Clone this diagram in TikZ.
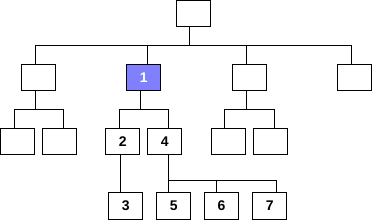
\documentclass[tikz,border=0pt]{standalone}
\usepackage{fontspec}
\setmainfont{Liberation Sans}
\definecolor{selblue}{HTML}{8080FF}
\begin{document}
\begin{tikzpicture}[x=1pt,y=-1pt,line width=1pt,
  box/.style={draw=black,fill=white,minimum width=34pt,minimum height=26.5pt,inner sep=0pt,outer sep=0pt,
    font=\fontsize{14}{16}\selectfont\bfseries},
  sel/.style={box,fill=selblue,text=white},
  conn/.style={draw=black,line width=1pt}]
\useasboundingbox (0,0) rectangle (373,220);
% nodes
\node[box] (top) at (193,13.7) {};
\node[box] (A) at (38.8,77.7) {};
\node[sel] (n1) at (143.7,77.7) {1};
\node[box] (C) at (249.3,77.7) {};
\node[box] (D) at (354.8,77.7) {};
\node[box] (L1) at (17.7,141.7) {};
\node[box] (L2) at (59.8,141.7) {};
\node[box] (n2) at (122.7,141.7) {2};
\node[box] (n4) at (164.8,141.7) {4};
\node[box] (C1) at (228.2,141.7) {};
\node[box] (C2) at (270.8,141.7) {};
\node[box] (n3) at (125.8,205.8) {3};
\node[box] (n5) at (173.8,205.8) {5};
\node[box] (n6) at (221.5,205.8) {6};
\node[box] (n7) at (269.8,205.8) {7};
% junctions
\coordinate (j0) at (189.3,45);
\coordinate (jA) at (35.3,109.3);
\coordinate (j1) at (140.3,109.3);
\coordinate (jC) at (246.3,109.3);
\coordinate (j4) at (168.3,180.3);
% connectors
\draw[conn] (top.south -| j0) -- (j0);
\draw[conn] ([xshift=-3.5pt]A.north) |- (j0);
\draw[conn] ([xshift=3.6pt]n1.north) |- (j0);
\draw[conn] ([xshift=-3pt]C.north) |- (j0);
\draw[conn] ([xshift=-3.8pt]D.north) |- (j0);
\draw[conn] (A.south -| jA) -- (jA);
\draw[conn] ([xshift=-3.4pt]L1.north) |- (jA);
\draw[conn] ([xshift=3.5pt]L2.north) |- (jA);
\draw[conn] (n1.south -| j1) -- (j1);
\draw[conn] ([xshift=-3pt]n2.north) |- (j1);
\draw[conn] ([xshift=3.5pt]n4.north) |- (j1);
\draw[conn] (C.south -| jC) -- (jC);
\draw[conn] ([xshift=-3.9pt]C1.north) |- (jC);
\draw[conn] ([xshift=3.5pt]C2.north) |- (jC);
\draw[conn] ([xshift=-2.4pt]n2.south) coordinate (t2) -- (t2 |- n3.north);
\draw[conn] (n4.south -| j4) -- (j4);
\draw[conn] ([xshift=-5.5pt]n5.north) |- (j4);
\draw[conn] ([xshift=-5.2pt]n6.north) |- (j4);
\draw[conn] ([xshift=6.5pt]n7.north) |- (j4);
\end{tikzpicture}
\end{document}
